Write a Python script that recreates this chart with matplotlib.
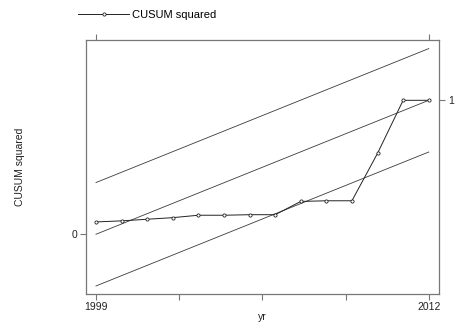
import matplotlib
matplotlib.use("Agg")
import matplotlib.pyplot as plt
import numpy as np

plt.rcParams['font.family'] = ['Liberation Sans', 'DejaVu Sans']

years = [1999, 2000, 2001, 2002, 2003, 2004, 2005, 2006, 2007, 2008, 2009, 2010, 2011, 2012]
cusumsq = [0.092, 0.100, 0.112, 0.124, 0.142, 0.142, 0.146, 0.146, 0.245, 0.250, 0.250, 0.604, 1.0, 1.0]
expected = [0.0, 1.0]
bound_c = 0.386
x_ticks = [1999, 2002.25, 2005.5, 2008.75, 2012]
x_labels = ['1999', '', '', '', '2012']

fig = plt.figure(figsize=(4.58, 3.24), dpi=100)
ax = fig.add_axes([86/458, 1-294/324, (438.7-86)/458, (294-40.3)/324])

ends = [years[0], years[-1]]
line_col = '#3a3a3a'
ax.plot(ends, [e + bound_c for e in expected], color=line_col, lw=0.6)
ax.plot(ends, expected, color=line_col, lw=0.6)
ax.plot(ends, [e - bound_c for e in expected], color=line_col, lw=0.6)
ax.plot(years, cusumsq, color='#222222', lw=0.7, marker='o', ms=2.3,
        mfc='white', mec='#222222', mew=0.6, label='CUSUM squared')

ax.set_xlim(1998.61, 2012.39)
ax.set_ylim(-0.446, 1.448)

spine_col = '#777777'
for s in ax.spines.values():
    s.set_color(spine_col)
    s.set_linewidth(0.9)

ax.set_xticks(x_ticks)
ax.set_xticklabels(x_labels)
ax.set_yticks([0])
ax.set_yticklabels(['0'])
ax.tick_params(axis='both', length=4.5, width=0.8, color=spine_col, labelsize=7.5, pad=1.5, labelcolor='#222222')

axr = ax.twinx()
axr.set_ylim(ax.get_ylim())
axr.set_yticks([1])
axr.set_yticklabels(['1'])
axr.tick_params(axis='y', length=4.5, width=0.8, color=spine_col, labelsize=7.5, pad=2, labelcolor='#222222')
for s in axr.spines.values():
    s.set_visible(False)

axt = ax.twiny()
axt.set_xlim(ax.get_xlim())
axt.set_xticks([1999, 2012])
axt.set_xticklabels(['', ''])
axt.tick_params(axis='x', length=4.5, width=0.8, color=spine_col)
for s in axt.spines.values():
    s.set_visible(False)

ax.set_xlabel('yr', fontsize=7.5, labelpad=0, color='#222222')
ax.set_ylabel('CUSUM squared', fontsize=7.5, labelpad=34, color='#222222')

ax.legend(loc='center left', bbox_to_anchor=(78/458, 1-15/324), bbox_transform=fig.transFigure,
          frameon=False, borderpad=0, borderaxespad=0, handlelength=4.6, handletextpad=0.3,
          fontsize=8)

fig.savefig('out.png', dpi=100)
